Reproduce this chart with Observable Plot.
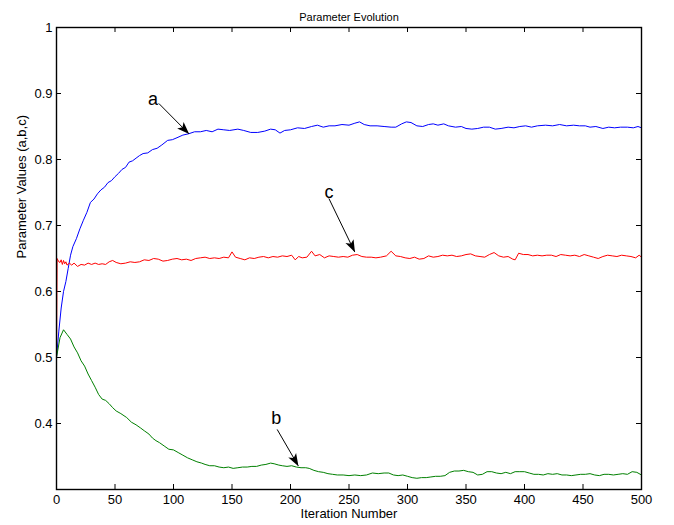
<!DOCTYPE html>
<html>
<head>
<meta charset="utf-8">
<script src="https://cdn.jsdelivr.net/npm/d3@7"></script>
<script src="https://cdn.jsdelivr.net/npm/@observablehq/plot@0.6"></script>
<style>
  html, body { margin: 0; padding: 0; background: #fff; }
  #chart { width: 674px; height: 525px; }
</style>
</head>
<body>
<div id="chart"></div>
<script>
// ---------- data ----------
const aIter = [0,2,4,6,8,10,12,14,17,20,23,26,29,32,35,38,41,44,47,50,53,56,59,62,65,68,71,74,78,82,86,90,95,99,103,108,113,118,123,128,133,138,143,148,155,160,166,172,178,183,187,191,195,200,206,212,218,223,228,233,238,244,250,255,259,263,268,274,280,286,290,295,299,303,308,313,318,322,326,331,335,341,346,350,355,360,365,370,375,380,386,391,396,401,406,411,418,424,430,436,442,447,452,456,461,467,472,477,482,488,493,497,500];
const aVal = [0.500,0.540,0.575,0.600,0.615,0.635,0.655,0.668,0.680,0.695,0.708,0.720,0.735,0.740,0.748,0.754,0.758,0.765,0.768,0.774,0.779,0.785,0.788,0.796,0.798,0.802,0.806,0.809,0.810,0.815,0.817,0.822,0.829,0.830,0.833,0.837,0.839,0.842,0.842,0.844,0.842,0.846,0.845,0.844,0.846,0.844,0.841,0.841,0.843,0.846,0.845,0.840,0.844,0.845,0.848,0.847,0.850,0.852,0.849,0.851,0.851,0.853,0.852,0.855,0.857,0.853,0.851,0.851,0.850,0.849,0.849,0.854,0.857,0.856,0.851,0.850,0.853,0.854,0.852,0.854,0.851,0.849,0.850,0.847,0.846,0.847,0.849,0.849,0.846,0.847,0.849,0.848,0.850,0.851,0.849,0.851,0.852,0.851,0.853,0.851,0.852,0.851,0.851,0.849,0.850,0.847,0.849,0.848,0.849,0.849,0.848,0.850,0.848];

const bIter = [0,3,6,9,12,15,18,21,24,27,30,33,36,39,42,45,48,51,55,60,64,68,72,75,79,82,85,88,92,96,100,104,108,112,116,120,124,127,131,135,139,143,147,151,155,159,163,167,171,175,179,183,186,190,193,197,201,205,209,213,216,220,224,228,232,236,240,245,250,255,260,265,270,275,280,284,288,292,296,300,304,308,312,316,320,324,328,332,336,340,344,348,352,356,360,364,368,372,376,380,384,388,392,396,400,404,408,412,416,420,424,428,432,436,440,444,448,452,456,460,464,468,472,476,480,484,488,492,496,500];
const bVal = [0.500,0.530,0.542,0.535,0.528,0.516,0.507,0.495,0.487,0.475,0.465,0.455,0.444,0.437,0.435,0.430,0.424,0.419,0.415,0.409,0.402,0.398,0.393,0.389,0.384,0.378,0.374,0.371,0.366,0.361,0.360,0.356,0.352,0.348,0.345,0.342,0.340,0.338,0.336,0.336,0.334,0.333,0.334,0.332,0.333,0.334,0.334,0.335,0.335,0.337,0.338,0.340,0.339,0.337,0.336,0.335,0.336,0.334,0.333,0.333,0.332,0.329,0.327,0.326,0.324,0.323,0.322,0.322,0.321,0.322,0.321,0.322,0.325,0.324,0.325,0.325,0.322,0.321,0.322,0.320,0.318,0.317,0.318,0.318,0.319,0.320,0.320,0.321,0.326,0.328,0.328,0.329,0.327,0.326,0.322,0.323,0.327,0.327,0.325,0.324,0.326,0.324,0.327,0.327,0.327,0.325,0.323,0.323,0.322,0.324,0.323,0.324,0.322,0.322,0.321,0.322,0.323,0.323,0.324,0.322,0.321,0.323,0.323,0.322,0.323,0.324,0.323,0.327,0.326,0.322];

const cIter = [0,0.5,2,3,4,5,6,7,8,9,11,13,15,18,21,24,27,30,33,36,39,42,45,48,51,55,59,63,67,71,75,79,83,87,91,95,99,103,107,111,115,119,123,127,131,135,139,143,147,150,153,157,161,165,169,173,177,181,185,189,193,197,201,204,207,210,214,218,221,225,229,233,237,241,245,249,253,257,261,265,269,273,277,282,286,290,294,298,302,306,310,314,318,322,326,330,334,338,342,346,350,354,358,362,366,370,374,378,382,386,390,392,395,399,403,407,411,415,419,423,427,431,435,439,443,447,451,455,459,463,467,471,475,479,483,487,491,495,498,500];
const cVal = [0.500,0.650,0.645,0.644,0.648,0.641,0.647,0.642,0.645,0.640,0.643,0.640,0.643,0.638,0.641,0.640,0.643,0.641,0.643,0.641,0.642,0.641,0.645,0.647,0.644,0.642,0.643,0.645,0.644,0.645,0.648,0.647,0.650,0.649,0.646,0.647,0.649,0.650,0.648,0.649,0.647,0.650,0.651,0.652,0.650,0.651,0.650,0.652,0.651,0.660,0.652,0.650,0.648,0.651,0.650,0.652,0.653,0.651,0.653,0.652,0.654,0.653,0.655,0.648,0.653,0.651,0.652,0.661,0.654,0.656,0.651,0.654,0.653,0.652,0.653,0.652,0.655,0.656,0.653,0.652,0.652,0.651,0.652,0.654,0.661,0.654,0.653,0.651,0.650,0.652,0.649,0.650,0.654,0.652,0.653,0.655,0.654,0.655,0.653,0.654,0.656,0.657,0.654,0.653,0.652,0.656,0.659,0.654,0.652,0.653,0.649,0.648,0.658,0.656,0.656,0.654,0.655,0.654,0.655,0.655,0.653,0.656,0.655,0.654,0.655,0.653,0.656,0.654,0.652,0.650,0.653,0.655,0.654,0.653,0.655,0.654,0.653,0.651,0.655,0.652];

const xTicks = [0,50,100,150,200,250,300,350,400,450,500];
const yTicks = [0.4,0.5,0.6,0.7,0.8,0.9,1];

// annotations: letter, label position, arrow tail, arrow tip (data units)
const annLetters = ["a","b","c"];
const annLabelX  = [82.5, 187.9, 232.9];
const annLabelY  = [0.892, 0.408, 0.750];
const annTailX   = [87.4, 188.6, 232.8];
const annTailY   = [0.885, 0.391, 0.741];
const annTipX    = [113.1, 206.6, 254.9];
const annTipY    = [0.839, 0.336, 0.660];

const titleText = "Parameter Evolution";
const xLabel = "Iteration Number";
const yLabel = "Parameter Values (a,b,c)";

// ---------- build tables ----------
const aData = aIter.map((x, i) => ({x, y: aVal[i]}));
const bData = bIter.map((x, i) => ({x, y: bVal[i]}));
const cData = cIter.map((x, i) => ({x, y: cVal[i]}));
const ann = annLetters.map((t, i) => ({
  t, lx: annLabelX[i], ly: annLabelY[i],
  x1: annTailX[i], y1: annTailY[i], x2: annTipX[i], y2: annTipY[i]
}));

const font = "'Liberation Sans', Arial, Helvetica, sans-serif";
const W = 674, H = 525, mL = 56, mR = 33, mT = 27, mB = 36;
const innerW = W - mL - mR, innerH = H - mT - mB, tick = 5;

const plot = Plot.plot({
  width: W,
  height: H,
  marginLeft: mL,
  marginRight: mR,
  marginTop: mT,
  marginBottom: mB,
  style: {fontFamily: font, fontSize: "13px", color: "black", background: "white", overflow: "visible"},
  x: {domain: [0, 500]},
  y: {domain: [0.3, 1]},
  marks: [
    // inward ticks on all four sides
    Plot.tickX(xTicks, {x: d => d, insetTop: innerH - tick, stroke: "black", strokeWidth: 1}),
    Plot.tickX(xTicks, {x: d => d, insetBottom: innerH - tick, stroke: "black", strokeWidth: 1}),
    Plot.tickY(yTicks, {y: d => d, insetRight: innerW - tick, stroke: "black", strokeWidth: 1}),
    Plot.tickY(yTicks, {y: d => d, insetLeft: innerW - tick, stroke: "black", strokeWidth: 1}),
    // tick labels
    Plot.axisX(xTicks, {anchor: "bottom", tickSize: 0, tickPadding: 5, label: null, fontSize: 13, fill: "black"}),
    Plot.axisY(yTicks, {anchor: "left", tickSize: 0, tickPadding: 4, tickFormat: d => String(d), label: null, fontSize: 13, fill: "black"}),
    // series
    Plot.line(aData, {x: "x", y: "y", stroke: "#0000ff", strokeWidth: 1}),
    Plot.line(bData, {x: "x", y: "y", stroke: "#008000", strokeWidth: 1}),
    Plot.line(cData, {x: "x", y: "y", stroke: "#ff0000", strokeWidth: 1}),
    Plot.frame({stroke: "black", strokeWidth: 1.4}),
    // annotations
    Plot.link(ann, {x1: "x1", y1: "y1", x2: "x2", y2: "y2", stroke: "black", strokeWidth: 1}),
    Plot.text(ann, {x: "lx", y: "ly", text: "t", fontSize: 18, fill: "black"}),
    // titles
    Plot.text([titleText], {frameAnchor: "top", dy: -14.5, fontSize: 11, fill: "black"}),
    Plot.text([xLabel], {frameAnchor: "bottom", dy: 28, fontSize: 13, fill: "black"}),
    Plot.text([yLabel], {frameAnchor: "left", dx: -35, rotate: -90, fontSize: 13, fill: "black"})
  ]
});

// filled arrowheads
const svg = d3.select(plot);
const defs = svg.insert("defs", ":first-child");
defs.append("marker")
  .attr("id", "ahead")
  .attr("markerUnits", "userSpaceOnUse")
  .attr("viewBox", "-12 -5 13 10")
  .attr("refX", 0).attr("refY", 0)
  .attr("markerWidth", 13).attr("markerHeight", 10)
  .attr("orient", "auto")
  .append("path")
  .attr("d", "M-12,-4.5L0.5,0L-12,4.5L-9,0Z")
  .attr("fill", "black");
svg.selectAll("g[aria-label='link'] path").attr("marker-end", "url(#ahead)");

document.getElementById("chart").appendChild(plot);
</script>
</body>
</html>
